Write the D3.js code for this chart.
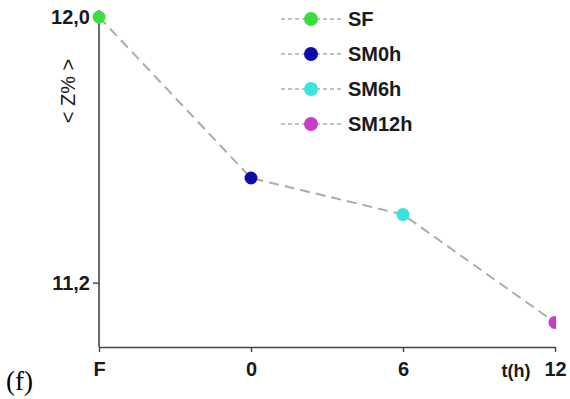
<!DOCTYPE html>
<html><head><meta charset="utf-8">
<script src="https://cdn.jsdelivr.net/npm/d3@7"></script>
<style>body{margin:0;background:#fff}svg{display:block}</style>
</head><body>
<script>
const categories = ["F", "0", "6", "12"];
const seriesNames = ["SF", "SM0h", "SM6h", "SM12h"];
const values = [12.0, 11.515, 11.405, 11.08];
const colors = ["#3ddc3d", "#0c0caa", "#38e4de", "#c83cc8"];
const yTicks = [11.2, 12.0];
const yTickLabels = ["11,2", "12,0"];

const W = 570, H = 399;
const svg = d3.select("body").append("svg").attr("width", W).attr("height", H);
const x = d3.scalePoint().domain(categories).range([99, 555]);
const y = d3.scaleLinear().domain([11.0, 12.0]).range([349, 17]);

svg.append("defs").append("clipPath").attr("id", "clip")
  .append("rect").attr("x", 0).attr("y", 0).attr("width", 556).attr("height", H);

const font = "'Liberation Sans', Arial, sans-serif";

// y axis
const yAx = svg.append("g").attr("transform", "translate(99,0)")
  .call(d3.axisLeft(y).tickValues(yTicks).tickSize(6).tickSizeOuter(0)
    .tickFormat((d, i) => yTickLabels[i]));
yAx.select(".domain").attr("d", `M0,${y(12.02)}V347`).attr("stroke", "#444").attr("stroke-width", 1.6);
yAx.selectAll(".tick line").attr("stroke", "#444").attr("stroke-width", 1.4);
yAx.selectAll(".tick text").attr("font-family", font).attr("font-weight", "bold")
  .attr("font-size", 20).attr("fill", "#1a1a1a").attr("x", -9);

// x axis
const xAx = svg.append("g").attr("transform", "translate(0,347)")
  .call(d3.axisBottom(x).tickSize(5).tickSizeOuter(0));
xAx.select(".domain").attr("stroke", "#444").attr("stroke-width", 1.6);
xAx.selectAll(".tick line").attr("stroke", "#444").attr("stroke-width", 1.4);
xAx.selectAll(".tick text").attr("font-family", font).attr("font-weight", "bold")
  .attr("font-size", 20).attr("fill", "#1a1a1a").attr("y", 15).attr("dy", "0.71em");

svg.append("text").attr("x", 516).attr("y", 377).attr("text-anchor", "middle")
  .attr("font-family", font).attr("font-weight", "bold").attr("font-size", 18)
  .attr("fill", "#1a1a1a").text("t(h)");

// y title
svg.append("text").attr("transform", "translate(75,91) rotate(-90)")
  .attr("text-anchor", "middle").attr("font-family", font).attr("font-size", 20)
  .attr("fill", "#1a1a1a").text("< Z% >");

// (f)
svg.append("text").attr("x", 6).attr("y", 390).attr("font-family", "'Liberation Serif', 'Times New Roman', serif")
  .attr("font-size", 27).attr("fill", "#000").text("(f)");

// line + points
const data = categories.map((c, i) => ({c, v: values[i], col: colors[i]}));
const g = svg.append("g").attr("clip-path", "url(#clip)");
g.append("path").datum(data)
  .attr("d", d3.line().x(d => x(d.c)).y(d => y(d.v)))
  .attr("fill", "none").attr("stroke", "#a8aea4").attr("stroke-width", 2)
  .attr("stroke-dasharray", "10,6");
g.selectAll("circle").data(data).join("circle")
  .attr("cx", d => x(d.c)).attr("cy", d => y(d.v)).attr("r", 6.5)
  .attr("fill", d => d.col);

// legend
const lg = svg.append("g");
seriesNames.forEach((name, i) => {
  const yy = 19 + i * 35;
  lg.append("line").attr("x1", 281).attr("x2", 343).attr("y1", yy).attr("y2", yy)
    .attr("stroke", "#a8aea4").attr("stroke-width", 1.3).attr("stroke-dasharray", "4,3");
  lg.append("circle").attr("cx", 311).attr("cy", yy).attr("r", 7).attr("fill", colors[i]);
  lg.append("text").attr("x", 348).attr("y", yy).attr("dy", "0.36em")
    .attr("font-family", font).attr("font-weight", "bold").attr("font-size", 20)
    .attr("fill", "#1a1a1a").text(name);
});
</script>
</body></html>
